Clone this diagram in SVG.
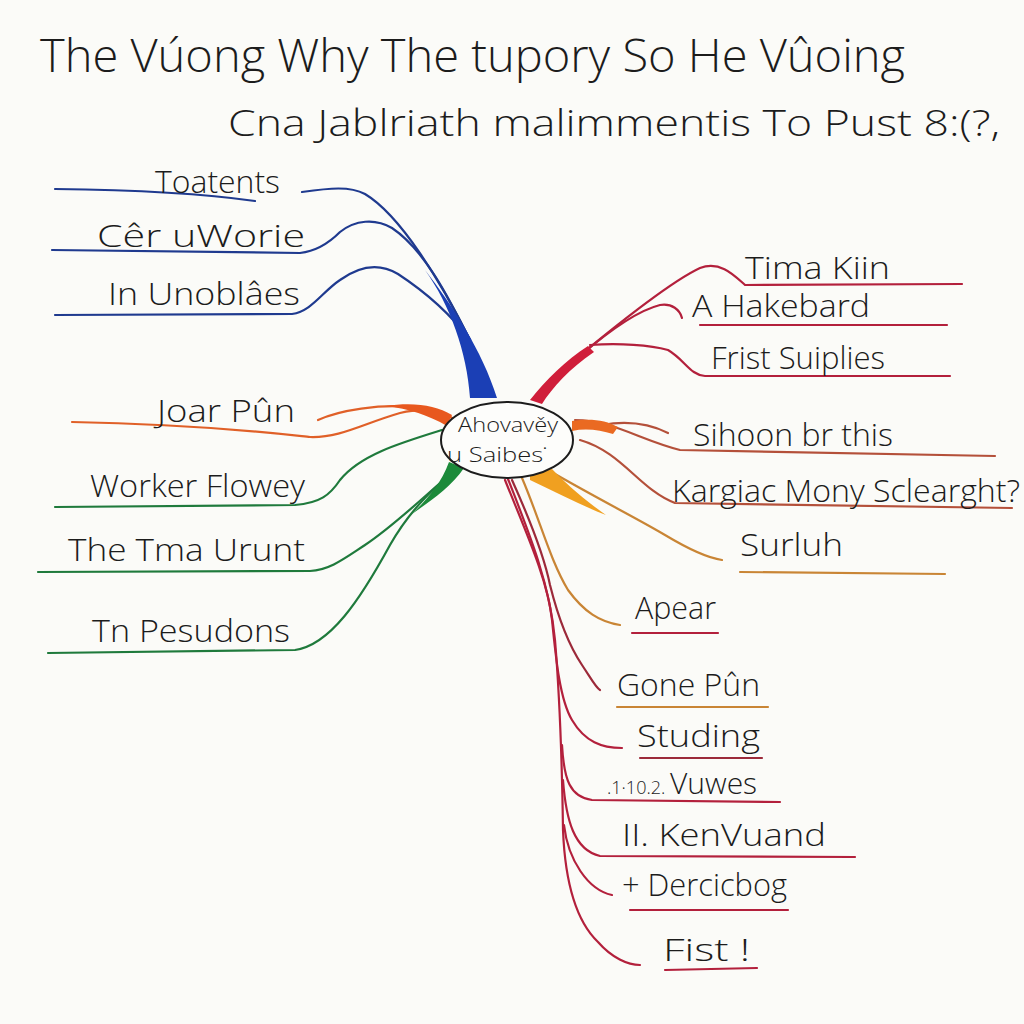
<svg xmlns="http://www.w3.org/2000/svg" width="1024" height="1024" viewBox="0 0 1024 1024">
<style>
.t{font-family:"Open Sans","Liberation Sans",sans-serif;fill:#1c1c1c;font-weight:300}
.lb{font-size:31px}
.c{fill:none;stroke-width:2.2;stroke-linecap:round}
.blue{stroke:#1f3a8f}
.org{stroke:#e06028}
.grn{stroke:#1f7a3c}
.red{stroke:#b3203c}
.brn{stroke:#b4503a}
.amb{stroke:#c98535}
.dk{stroke:#9c2a3a}
</style>
<rect width="1024" height="1024" fill="#fbfbf8"/>
<g id="title">
<text class="t" x="40" y="72" font-size="46" textLength="865" lengthAdjust="spacingAndGlyphs">The Vúong Why The tupory So He Vûoing</text>
<text class="t" x="228" y="136" font-size="37" textLength="772" lengthAdjust="spacingAndGlyphs">Cna Jablriath malimmentis To Pust 8:(?,</text>
</g>
<g id="connectors">
<!-- blue -->
<path class="c blue" d="M55,189 C150,190 220,196 255,201"/>
<path class="c blue" d="M302,192 C330,188 350,186 365,194 C400,215 440,280 470,340"/>
<path class="c blue" d="M52,250 L300,253 C318,251 330,242 340,232 C355,220 375,218 392,228 C425,250 450,300 470,340"/>
<path class="c blue" d="M55,315 L292,314 C312,311 322,292 340,280 C358,267 378,262 398,274 C430,295 455,320 470,340"/>
<path d="M425,270 C450,305 467,352 470,398 L497,398 C482,350 452,305 425,270 Z" fill="#1b3fb5"/>
<!-- orange left -->
<path class="c org" d="M72,422 C200,424 290,435 310,437 C340,438 362,424 400,413 C422,408 440,410 452,418"/>
<path class="c org" d="M318,420 C340,410 380,404 412,407"/>
<path d="M385,406 C414,402 435,405 452,415 L447,426 C428,415 410,409 385,406 Z" fill="#e8581e"/>
<!-- green -->
<path class="c grn" d="M55,507 L295,505 C320,503 330,495 340,480 C360,455 400,443 442,430"/>
<path class="c grn" d="M38,572 L310,571 C330,570 345,558 365,545 C395,525 420,500 455,470"/>
<path class="c grn" d="M48,653 L295,650 C330,645 360,600 390,545 C410,510 432,490 455,470"/>
<path d="M412,514 C428,498 441,484 449,462 L464,468 C451,487 432,500 412,514 Z" fill="#1c8a3a"/>
<!-- red right top -->
<path class="c red" d="M560,372 C610,330 670,282 700,268 C720,260 735,276 745,285 L962,284"/>
<path class="c red" d="M580,356 C610,330 640,310 660,305 C672,303 680,310 682,318"/>
<path class="c red" d="M700,325 L947,325"/>
<path class="c red" d="M590,345 C620,343 650,345 668,350 C685,360 690,375 705,376 L950,376"/>
<path d="M530,400 C546,380 566,360 588,346 L594,352 C570,368 552,388 542,404 Z" fill="#d01e3a"/>
<!-- orange right -->
<path class="c brn" d="M575,420 C612,420 640,440 680,450 L995,456"/>
<path class="c brn" d="M602,425 C630,420 652,425 668,433"/>
<path class="c brn" d="M580,440 C622,452 640,490 675,503 L1012,508"/>
<path d="M572,421 C590,418 606,420 618,427 L613,434 C600,430 586,428 572,431 Z" fill="#ea6a22"/>
<path class="c amb" d="M548,470 C600,500 640,520 665,535 C690,550 708,558 722,560"/>
<path d="M530,472 L552,469 C572,490 592,505 606,515 C582,506 556,492 530,480 Z" fill="#f0a020"/>
<path class="c amb" d="M740,572 L945,574"/>
<!-- lower red -->
<path class="c amb" d="M522,478 C540,520 550,560 568,590 C584,612 600,622 620,625"/>
<path class="c red" d="M632,633 L718,633"/>
<path class="c dk" d="M512,480 C530,520 545,560 550,585 C560,625 572,650 582,665 C592,680 596,688 600,690"/>
<path class="c amb" d="M617,707 L768,707"/>
<path class="c red" d="M505,480 C525,530 548,580 552,620 C556,660 560,700 572,720 C585,742 602,748 622,748"/>
<path class="c dk" d="M640,758 L762,758"/>
<path class="c red" d="M508,479 C530,535 550,585 555,640 C560,700 562,760 563,830 C565,880 575,920 598,942 C612,958 628,965 640,965"/>
<path class="c red" d="M562,745 C564,780 570,797 592,800 L780,802"/>
<path class="c red" d="M563,780 C566,820 574,850 600,856 L855,857"/>
<path class="c red" d="M564,825 C568,860 588,890 612,895"/>
<path class="c red" d="M630,910 L788,910"/>
<path class="c red" d="M665,970 L757,968"/>
</g>
<g id="center">
<ellipse cx="507" cy="440" rx="66" ry="38" fill="#fdfdfb" stroke="#1c1c1c" stroke-width="2"/>
<text class="t" x="508" y="432" font-size="21" text-anchor="middle" textLength="100" lengthAdjust="spacingAndGlyphs">Ahovavěy</text>
<text class="t" x="447" y="462" font-size="21" textLength="100" lengthAdjust="spacingAndGlyphs">u Saibes˙</text>
</g>
<g id="n-toatents"><text class="t lb" x="155" y="193" textLength="125" lengthAdjust="spacingAndGlyphs">Toatents</text></g>
<g id="n-cer"><text class="t lb" x="97" y="247" textLength="208" lengthAdjust="spacingAndGlyphs">Cêr uWorie</text></g>
<g id="n-unoblaes"><text class="t lb" x="108" y="305" textLength="192" lengthAdjust="spacingAndGlyphs">In Unoblâes</text></g>
<g id="n-joar"><text class="t lb" x="157" y="422" textLength="138" lengthAdjust="spacingAndGlyphs">Joar Pûn</text></g>
<g id="n-worker"><text class="t lb" x="90" y="497" textLength="215" lengthAdjust="spacingAndGlyphs">Worker Flowey</text></g>
<g id="n-tma"><text class="t lb" x="68" y="561" textLength="237" lengthAdjust="spacingAndGlyphs">The Tma Urunt</text></g>
<g id="n-pesudons"><text class="t lb" x="92" y="642" textLength="198" lengthAdjust="spacingAndGlyphs">Tn Pesudons</text></g>
<g id="n-tima"><text class="t lb" x="745" y="279" textLength="145" lengthAdjust="spacingAndGlyphs">Tima Kiin</text></g>
<g id="n-hakebard"><text class="t lb" x="692" y="317" textLength="178" lengthAdjust="spacingAndGlyphs">A Hakebard</text></g>
<g id="n-frist"><text class="t lb" x="711" y="369" textLength="174" lengthAdjust="spacingAndGlyphs">Frist Suiplies</text></g>
<g id="n-sihoon"><text class="t lb" x="693" y="446" textLength="200" lengthAdjust="spacingAndGlyphs">Sihoon br this</text></g>
<g id="n-kargiac"><text class="t lb" x="672" y="502" textLength="348" lengthAdjust="spacingAndGlyphs">Kargiac Mony Sclearght?</text></g>
<g id="n-surluh"><text class="t lb" x="740" y="556" textLength="103" lengthAdjust="spacingAndGlyphs">Surluh</text></g>
<g id="n-apear"><text class="t lb" x="635" y="619" textLength="81" lengthAdjust="spacingAndGlyphs">Apear</text></g>
<g id="n-gone"><text class="t lb" x="617" y="696" textLength="143" lengthAdjust="spacingAndGlyphs">Gone Pûn</text></g>
<g id="n-studing"><text class="t lb" x="637" y="747" textLength="123" lengthAdjust="spacingAndGlyphs">Studing</text></g>
<g id="n-vuwes"><text class="t" x="607" y="794"><tspan font-size="18">.1·10.2. </tspan><tspan font-size="30">Vuwes</tspan></text></g>
<g id="n-kenvuand"><text class="t lb" x="622" y="846" textLength="204" lengthAdjust="spacingAndGlyphs">II. KenVuand</text></g>
<g id="n-dercicbog"><text class="t lb" x="622" y="896" textLength="165" lengthAdjust="spacingAndGlyphs">+ Dercicbog</text></g>
<g id="n-fist"><text class="t lb" x="663" y="961" textLength="87" lengthAdjust="spacingAndGlyphs">Fist !</text></g>
</svg>
